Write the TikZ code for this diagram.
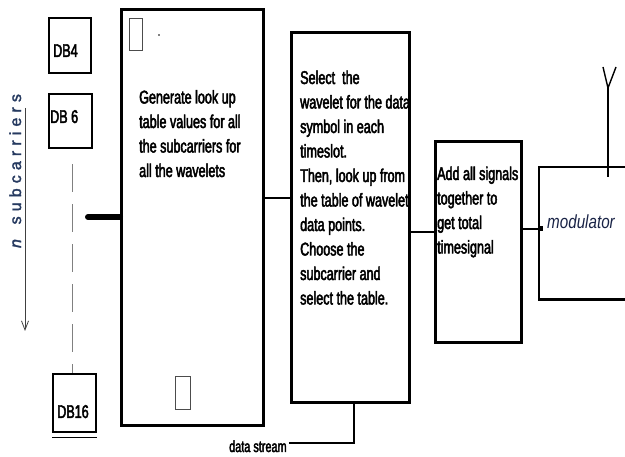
\documentclass[tikz,border=0pt]{standalone}
\usepackage{fontspec}
\setmainfont{Liberation Sans}[FakeStretch=0.68,FakeBold=2.5]
\newfontfamily\modfont{Liberation Sans}[FakeStretch=0.8]
\newfontfamily\spacedfont{Liberation Sans}[LetterSpace=32,FakeBold=2]
\usetikzlibrary{arrows.meta}
\definecolor{navy}{RGB}{38,58,96}
\definecolor{modcol}{RGB}{25,35,70}
\begin{document}
\begin{tikzpicture}[x=1pt,y=-1pt,
  blk/.style={draw=black, line width=2.6pt, anchor=north west, inner sep=0pt},
  dbbox/.style={draw=black, line width=2.4pt, anchor=north west, inner sep=0pt},
  tiny/.style={draw=black!70, line width=0.8pt, anchor=north west, inner sep=0pt},
  body/.style={font=\fontsize{18.5}{24.5}\selectfont, align=left, inner sep=0pt, anchor=base west},
  conn/.style={line width=2.8pt},
  thin/.style={line width=2pt}]
\useasboundingbox (0,0) rectangle (625,457);
\fill[white] (0,0) rectangle (625,457);

% left: database boxes
\node[dbbox, minimum width=42pt, minimum height=55pt] (db4) at (48,17) {};
\node[dbbox, minimum width=43pt, minimum height=54pt] (db6) at (48,93) {};
\node[dbbox, minimum width=43pt, minimum height=58pt] (db16) at (52,373) {};
\draw[line width=1.2pt] ([yshift=-4pt]db16.south west) -- ([yshift=-4pt]db16.south east);
\node[body] (t4) at (53,57) {DB4};
\node[body] (t6) at (50,123) {DB 6};
\node[body, anchor=base] (t16) at (73,418) {DB16};
\draw[gray, line width=0.9pt, dash pattern=on 28pt off 12pt] (db6.south -| 72,0) ++(0,15) -- (db16.north -| 72,0);

% n subcarriers arrow
\node[font=\spacedfont\fontsize{16}{18}\selectfont, text=navy, rotate=90, anchor=base, inner sep=0pt] (nsub) at (21,171) {\textit{n} subcarriers};
\coordinate (arrA) at (25,108);
\coordinate (arrB) at (25,331);
\draw[black!75, line width=0.8pt, -{Straight Barb[length=9pt,width=7pt]}] (arrA) -- (arrB);

% stub into generator
\coordinate (stub) at (88,217);
\node[blk, line width=3pt, minimum width=142pt, minimum height=416pt] (gen) at (120,8) {};
\draw[line width=6pt, line cap=round] (stub) -- (stub -| gen.west);
\node[tiny, minimum width=13pt, minimum height=32pt] (r1) at (129,18) {};
\node[tiny, minimum width=15pt, minimum height=33pt] (r2) at (175,376) {};
\fill[black] (159,35) circle (0.8pt);
% base anchor of a multi-line node = baseline of its last line
\node[body] (gtext) at (139,177) {Generate look up\\table values for all\\the subcarriers for\\all the wavelets};

% select box
\node[blk, minimum width=118pt, minimum height=370pt] (sel) at (290,31) {};
\node[body] (stext) at (300,304.5) {Select\ \ the\\wavelet for the data\\symbol in each\\timeslot.\\Then, look up from\\the table of wavelet\\data points.\\Choose the\\subcarrier and\\select the table.};
\draw[conn] (gen.east |- 0,198) -- (sel.west |- 0,198);

% add box
\node[blk, minimum width=86pt, minimum height=201pt] (add) at (434,140) {};
\node[body] (atext) at (437,253.5) {Add all signals\\together to\\get total\\timesignal};
\draw[conn] (sel.east |- 0,232) -- (add.west |- 0,232);

% modulator (open to the right)
\node[anchor=north west, minimum width=95pt, minimum height=132pt, inner sep=0pt] (mod) at (539,167) {};
\draw[line width=2.6pt] (mod.north east) -- (mod.north west) -- (mod.south west) -- (mod.south east);
\node[font=\modfont\itshape\fontsize{19}{21}\selectfont, text=modcol, anchor=base west, inner sep=0pt] (mtext) at (547,229) {modulator};
\coordinate (mj) at (540,229);
\draw[conn] (add.east |- mj) -- (mj);
\fill[black] ([xshift=-2.5pt,yshift=-2.5pt]mj) rectangle ([xshift=2.5pt,yshift=2.5pt]mj);

% antenna
\coordinate (antbot) at (608,177);
\coordinate (antjoin) at (608,88);
\coordinate (antL) at (603,67);
\coordinate (antR) at (616,67);
\draw[line width=2pt] (antbot) -- (antjoin);
\draw[line width=1.4pt] (antL) -- (antjoin) -- (antR);

% data stream
\node[font=\fontsize{16}{18}\selectfont, anchor=base west, inner sep=2pt] (ds) at (227,452) {data stream};
\coordinate (dsj) at (354,443);
\draw[thin] (ds.east |- dsj) -- (dsj) -- (sel.south -| dsj);
\end{tikzpicture}
\end{document}
